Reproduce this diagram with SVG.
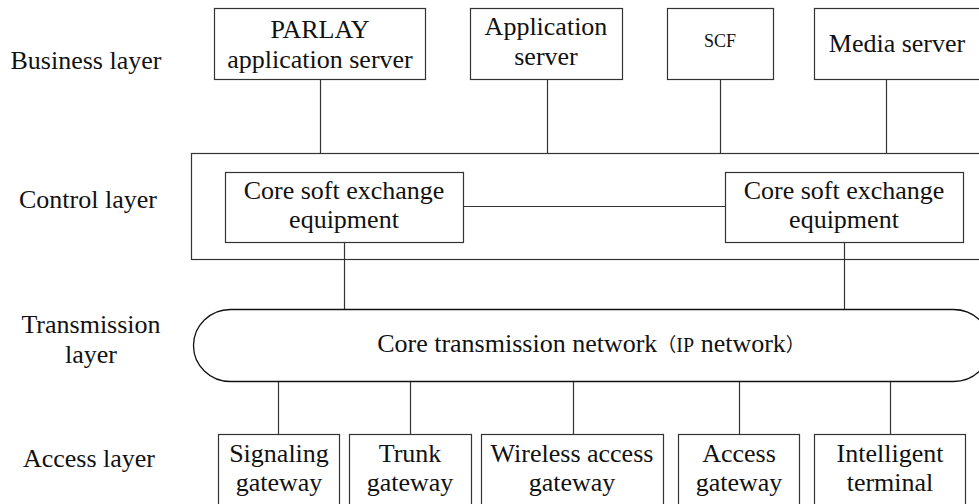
<svg xmlns="http://www.w3.org/2000/svg" width="979" height="504" viewBox="0 0 979 504">
<style>
.box{fill:#fff;stroke:#333;stroke-width:1.2}
.ln{stroke:#333;stroke-width:1.2;fill:none}
.t{font-family:"Liberation Serif","Times New Roman",serif;font-size:26px;fill:#111;text-anchor:middle}
.s{font-size:18px}
</style>
<rect width="979" height="504" fill="#fff"/>
<g id="layer-labels">
<text class="t" x="86" y="69">Business layer</text>
<text class="t" x="88" y="208">Control layer</text>
<text class="t" x="91" y="333">Transmission</text>
<text class="t" x="91" y="363">layer</text>
<text class="t" x="89" y="467">Access layer</text>
</g>
<g id="control-layer">
<rect class="box" x="191.5" y="153.5" width="800" height="106"/>
</g>
<g id="connectors">
<line class="ln" x1="320.5" y1="79" x2="320.5" y2="153.5"/>
<line class="ln" x1="547.5" y1="79" x2="547.5" y2="153.5"/>
<line class="ln" x1="720.5" y1="79" x2="720.5" y2="153.5"/>
<line class="ln" x1="886.5" y1="79" x2="886.5" y2="153.5"/>
<line class="ln" x1="463" y1="206.5" x2="725" y2="206.5"/>
<line class="ln" x1="344.5" y1="242" x2="344.5" y2="309"/>
<line class="ln" x1="844.5" y1="242" x2="844.5" y2="309"/>
<line class="ln" x1="278.5" y1="381" x2="278.5" y2="434"/>
<line class="ln" x1="410.5" y1="381" x2="410.5" y2="434"/>
<line class="ln" x1="573.5" y1="381" x2="573.5" y2="434"/>
<line class="ln" x1="739.5" y1="381" x2="739.5" y2="434"/>
<line class="ln" x1="890.5" y1="381" x2="890.5" y2="434"/>
</g>
<g id="parlay">
<rect class="box" x="214.5" y="8.5" width="211" height="71"/>
<text class="t" x="320" y="38">PARLAY</text>
<text class="t" x="320" y="68">application server</text>
</g>
<g id="app-server">
<rect class="box" x="470.5" y="8.5" width="152" height="71"/>
<text class="t" x="546" y="35">Application</text>
<text class="t" x="546" y="65">server</text>
</g>
<g id="scf">
<rect class="box" x="667.5" y="8.5" width="106" height="71"/>
<text class="t s" x="720" y="47">SCF</text>
</g>
<g id="media-server">
<rect class="box" x="814.5" y="8.5" width="180" height="71"/>
<text class="t" x="897" y="52">Media server</text>
</g>
<g id="core-soft-left">
<rect class="box" x="225.5" y="172.5" width="238" height="70"/>
<text class="t" x="344" y="199">Core soft exchange</text>
<text class="t" x="344" y="228">equipment</text>
</g>
<g id="core-soft-right">
<rect class="box" x="725.5" y="172.5" width="238" height="70"/>
<text class="t" x="844" y="199">Core soft exchange</text>
<text class="t" x="844" y="228">equipment</text>
</g>
<g id="core-network">
<rect x="193.5" y="309.5" width="797" height="72" rx="37" ry="36" fill="#fff" stroke="#111" stroke-width="1.3"/>
<text class="t" x="591" y="352">Core transmission network<tspan style="font-family:'Noto Sans CJK SC',sans-serif;font-size:19px">（</tspan><tspan font-size="20">IP</tspan> network<tspan style="font-family:'Noto Sans CJK SC',sans-serif;font-size:19px">）</tspan></text>
</g>
<g id="signaling-gateway">
<rect class="box" x="218.5" y="434.5" width="121" height="80"/>
<text class="t" x="279" y="462">Signaling</text>
<text class="t" x="279" y="491">gateway</text>
</g>
<g id="trunk-gateway">
<rect class="box" x="349.5" y="434.5" width="122" height="80"/>
<text class="t" x="410" y="462">Trunk</text>
<text class="t" x="410" y="491">gateway</text>
</g>
<g id="wireless-gateway">
<rect class="box" x="481.5" y="434.5" width="182" height="80"/>
<text class="t" x="572" y="462">Wireless access</text>
<text class="t" x="572" y="491">gateway</text>
</g>
<g id="access-gateway">
<rect class="box" x="678.5" y="434.5" width="121" height="80"/>
<text class="t" x="739" y="462">Access</text>
<text class="t" x="739" y="491">gateway</text>
</g>
<g id="intelligent-terminal">
<rect class="box" x="814.5" y="434.5" width="151" height="80"/>
<text class="t" x="890" y="462">Intelligent</text>
<text class="t" x="890" y="491">terminal</text>
</g>
</svg>
